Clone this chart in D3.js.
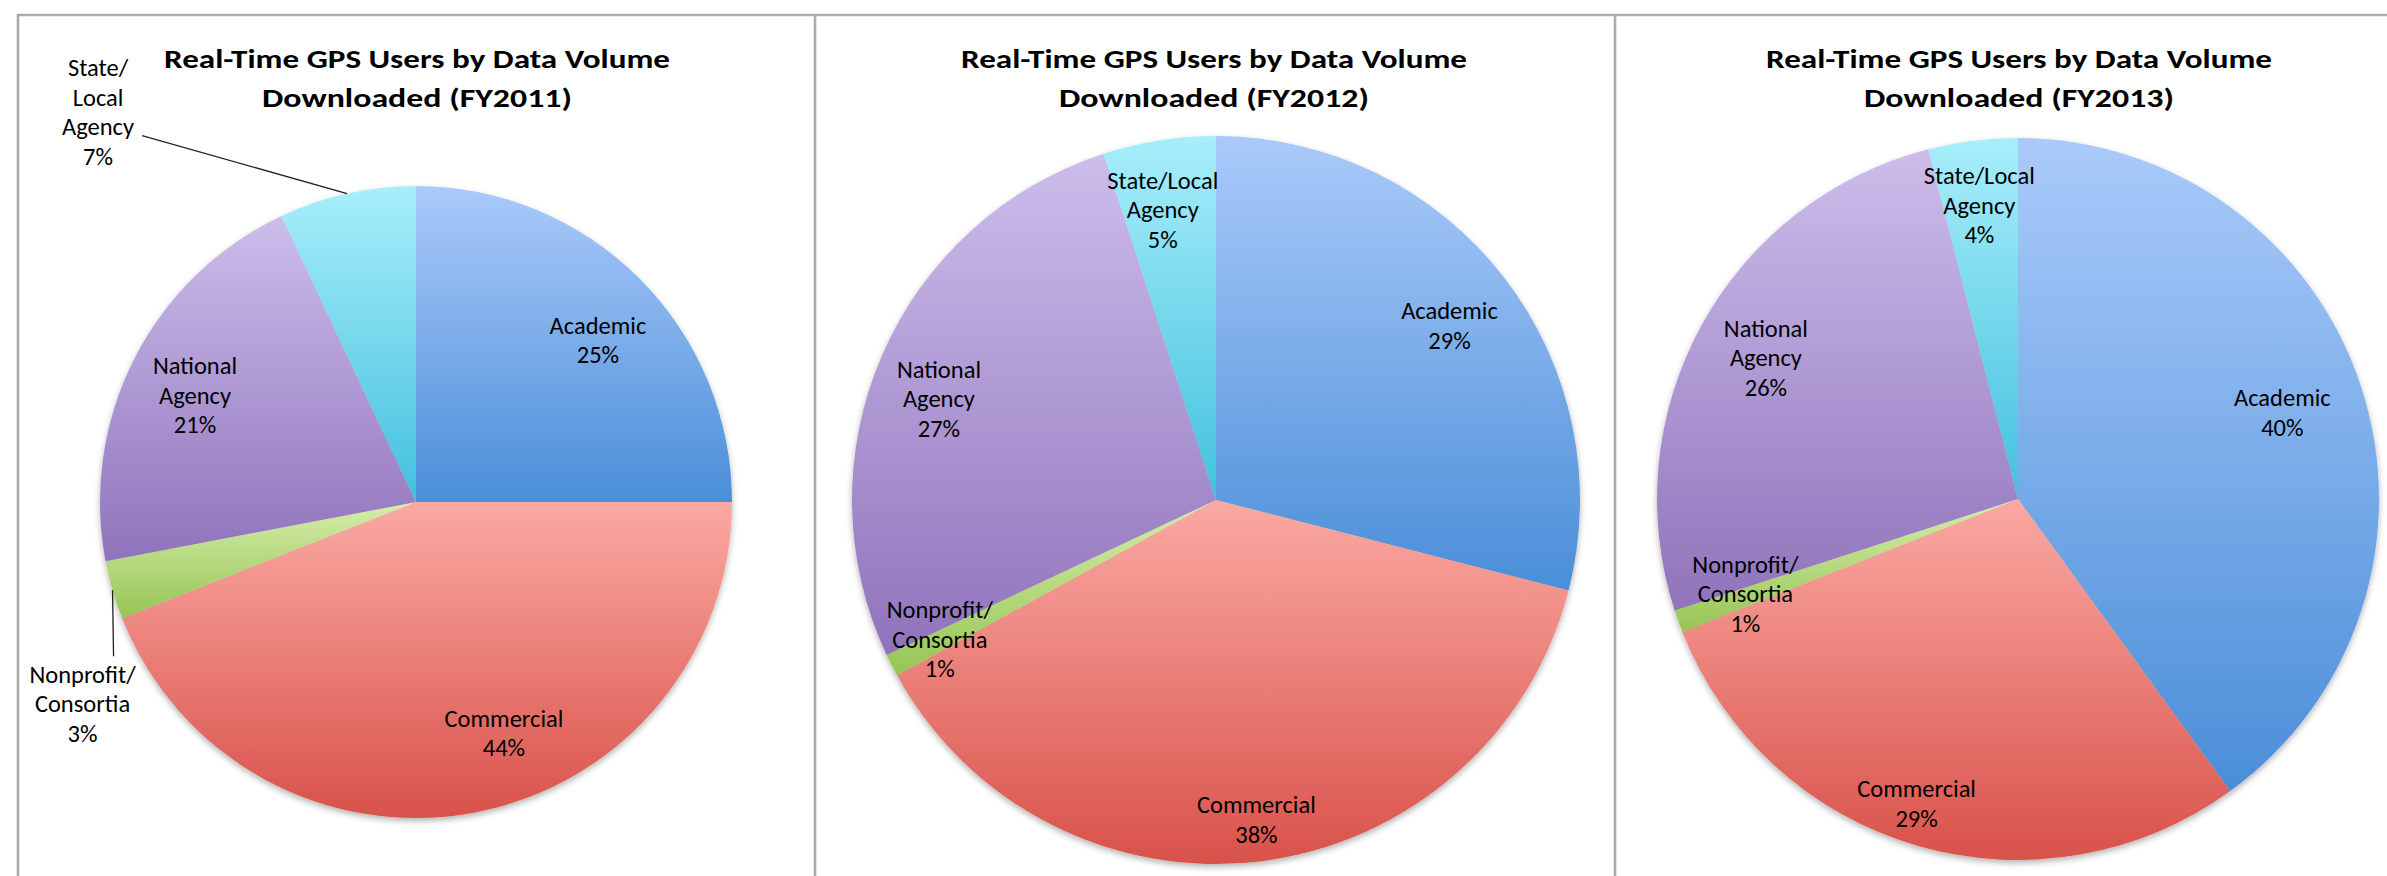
<!DOCTYPE html>
<html>
<head>
<meta charset="utf-8">
<script src="https://cdn.jsdelivr.net/npm/d3@7"></script>
<style>
  html, body { margin: 0; padding: 0; background: #fff; }
  svg { display: block; }
  text { font-family: Carlito, Calibri, Lato, "Open Sans", sans-serif; fill: #000; }
</style>
</head>
<body>
<svg id="chart" width="2387" height="876"></svg>
<script>
// ---- data ----
const categories = ["Academic", "Commercial", "Nonprofit/Consortia", "National Agency", "State/Local Agency"];
const fiscalYears = ["FY2011", "FY2012", "FY2013"];
const shares2011 = [25, 44, 3, 21, 7];
const shares2012 = [29, 38, 1, 27, 5];
const shares2013 = [40, 29, 1, 26, 4];
const labelNames2011 = [["Academic"], ["Commercial"], ["Nonprofit/", "Consortia"], ["National", "Agency"], ["State/", "Local", "Agency"]];
const labelNames2012 = [["Academic"], ["Commercial"], ["Nonprofit/", "Consortia"], ["National", "Agency"], ["State/Local", "Agency"]];
const labelNames2013 = labelNames2012;
const titleLine1 = "Real-Time GPS Users by Data Volume";
const titleLine2Prefix = "Downloaded";

// ---- styling ----
const sliceGradients = [
  ["#aacafa", "#4a8ed8"],  // Academic
  ["#fba9a3", "#d8524a"],  // Commercial
  ["#d6eeaa", "#96c454"],  // Nonprofit/Consortia
  ["#ccbdeb", "#9073bb"],  // National Agency
  ["#a8eefb", "#42c1de"]   // State/Local Agency
];

// panel frames and pie placement
const panels = [
  { cx: 416,  cy: 502, r: 316, titleX: 417,  values: shares2011, names: labelNames2011,
    labels: [
      { shift: 3.4,  frac: 0.77 },
      { shift: -10,  frac: 0.784 },
      { outside: true, dx: -30, dy: 114, lineDx: 1, lineDy: 66 },
      { shift: -1.3, frac: 0.776 },
      { outside: true, dx: -249, dy: -81, lineDx: -205, lineDy: -58 }
    ] },
  { cx: 1216, cy: 500, r: 364, titleX: 1214, values: shares2012, names: labelNames2012,
    labels: [
      { shift: 1.1,  frac: 0.80 },
      { shift: 0,    frac: 0.886 },
      { shift: 0.2,  frac: 0.85 },
      { shift: -3.4, frac: 0.81 },
      { shift: -1.4, frac: 0.81 }
    ] },
  { cx: 2018, cy: 499, r: 361, titleX: 2019, values: shares2013, names: labelNames2013,
    labels: [
      { shift: 0,    frac: 0.77 },
      { shift: 2.2,  frac: 0.89 },
      { shift: 0.5,  frac: 0.80 },
      { shift: 0.4,  frac: 0.80 },
      { shift: -0.3, frac: 0.82 }
    ] }
];

const svg = d3.select("#chart");
const defs = svg.append("defs");

sliceGradients.forEach((g, i) => {
  const lg = defs.append("linearGradient")
    .attr("id", "slice-grad-" + i)
    .attr("x1", 0).attr("y1", 0).attr("x2", 0).attr("y2", 1);
  lg.append("stop").attr("offset", "0%").attr("stop-color", g[0]);
  lg.append("stop").attr("offset", "100%").attr("stop-color", g[1]);
});

const shadow = defs.append("filter").attr("id", "pie-shadow")
  .attr("x", "-10%").attr("y", "-10%").attr("width", "120%").attr("height", "120%");
shadow.append("feDropShadow")
  .attr("dx", 0).attr("dy", 3).attr("stdDeviation", 3)
  .attr("flood-color", "#000").attr("flood-opacity", 0.3);

// frame lines
const frame = svg.append("g").attr("stroke", "#ababab").attr("stroke-width", 2.6).attr("fill", "none");
frame.append("line").attr("x1", 17).attr("x2", 2387).attr("y1", 15).attr("y2", 15);
[18, 815, 1615].forEach(x => {
  frame.append("line").attr("x1", x).attr("x2", x).attr("y1", 14).attr("y2", 876);
});

const rad = Math.PI / 180;
const LABEL_LH = 29.5;
const TITLE_LH = 39;

function drawLines(g, lines, x, y, lh, cls) {
  const n = lines.length;
  lines.forEach((s, i) => {
    g.append("text")
      .attr("class", cls)
      .attr("x", x)
      .attr("y", y + (i - (n - 1) / 2) * lh)
      .attr("text-anchor", "middle")
      .attr("dominant-baseline", "central")
      .text(s);
  });
}

panels.forEach((p, pi) => {
  const g = svg.append("g");

  // title
  const t1 = g.append("text").attr("class", "title")
    .attr("x", p.titleX).attr("y", 58)
    .attr("text-anchor", "middle").attr("dominant-baseline", "central")
    .attr("font-size", 27).attr("font-weight", 700)
    .text(titleLine1);
  const t2 = g.append("text").attr("class", "title")
    .attr("x", p.titleX).attr("y", 58 + TITLE_LH)
    .attr("text-anchor", "middle").attr("dominant-baseline", "central")
    .attr("font-size", 27).attr("font-weight", 700)
    .text(titleLine2Prefix + " (" + fiscalYears[pi] + ")");
  [[t1, 506], [t2, 310]].forEach(([t, w]) => {
    t.attr("textLength", w).attr("lengthAdjust", "spacingAndGlyphs");
  });

  // slices
  const pie = d3.pie().sort(null).value(d => d)(p.values);
  const arc = d3.arc().innerRadius(0).outerRadius(p.r);
  const pieG = g.append("g").attr("transform", `translate(${p.cx},${p.cy})`)
    .attr("filter", "url(#pie-shadow)");
  pieG.selectAll("path").data(pie).join("path")
    .attr("d", arc)
    .attr("fill", (d, i) => `url(#slice-grad-${i})`);

  // data labels
  const lg = g.append("g").attr("font-size", 24.5);
  pie.forEach((d, i) => {
    const spec = p.labels[i];
    const mid = (d.startAngle + d.endAngle) / 2;
    const lines = p.names[i].concat([d3.format("d")(d.data) + "%"]);
    if (spec.outside) {
      const ax = p.cx + p.r * Math.sin(mid);
      const ay = p.cy - p.r * Math.cos(mid);
      g.append("line")
        .attr("x1", ax).attr("y1", ay)
        .attr("x2", ax + spec.lineDx).attr("y2", ay + spec.lineDy)
        .attr("stroke", "#222").attr("stroke-width", 1.3);
      drawLines(lg, lines, ax + spec.dx, ay + spec.dy, LABEL_LH, "label");
    } else {
      const a = mid + spec.shift * rad;
      const dist = spec.frac * p.r;
      drawLines(lg, lines, p.cx + dist * Math.sin(a), p.cy - dist * Math.cos(a), LABEL_LH, "label");
    }
  });
});
</script>
</body>
</html>
